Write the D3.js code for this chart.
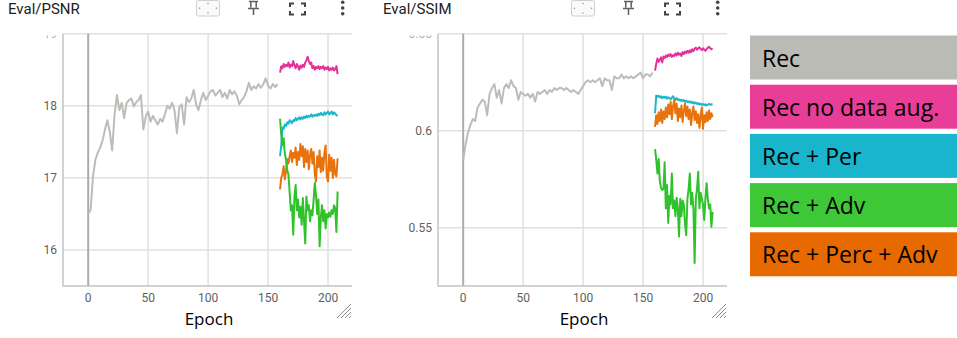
<!DOCTYPE html>
<html>
<head>
<meta charset="utf-8">
<script src="https://cdn.jsdelivr.net/npm/d3@7"></script>
<style>
  body { margin: 0; background: #fff; }
  svg { display: block; }
</style>
</head>
<body>
<svg id="chart" width="957" height="338"></svg>
<script>
// ---- data ----
const seriesNames = ["Rec", "Rec no data aug.", "Rec + Per", "Rec + Adv", "Rec + Perc + Adv"];
const xTicks = [0, 50, 100, 150, 200];
const psnrTicks = [16, 17, 18, 19];
const ssimTicks = [0.55, 0.6, 0.65];

// "Rec" run: epochs 0..158, every 2nd epoch
const psnrRec = [
  16.50, 16.55, 17.02, 17.25, 17.35, 17.42, 17.52, 17.67, 17.80, 17.64,
  17.38, 17.88, 18.15, 17.94, 18.04, 17.83, 18.04, 18.08, 18.10, 17.99,
  18.05, 18.08, 18.15, 17.67, 17.85, 17.92, 17.78, 17.86, 17.80, 17.74,
  17.82, 17.78, 17.88, 18.00, 17.96, 18.04, 17.94, 17.62, 17.98, 18.02,
  17.74, 18.12, 18.05, 18.10, 18.22, 18.02, 17.94, 18.08, 18.18, 18.08,
  18.14, 18.20, 18.22, 18.14, 18.18, 18.22, 18.12, 18.18, 18.10, 18.22,
  18.16, 18.20, 18.14, 18.02, 18.08, 18.12, 18.20, 18.32, 18.22, 18.27,
  18.24, 18.30, 18.25, 18.30, 18.38, 18.28, 18.24, 18.30, 18.26, 18.30
];
const ssimRec = [
  0.585, 0.593, 0.599, 0.603, 0.606, 0.605, 0.612, 0.614, 0.616, 0.615,
  0.608, 0.619, 0.622, 0.624, 0.617, 0.621, 0.614, 0.622, 0.624, 0.622,
  0.626, 0.623, 0.622, 0.616, 0.620, 0.619, 0.618, 0.619, 0.617, 0.619,
  0.615, 0.620, 0.619, 0.620, 0.621, 0.619, 0.621, 0.620, 0.622, 0.621,
  0.622, 0.622, 0.621, 0.622, 0.621, 0.620, 0.621, 0.620, 0.619, 0.621,
  0.623, 0.625, 0.626, 0.625, 0.626, 0.625, 0.626, 0.627, 0.623, 0.627,
  0.626, 0.626, 0.621, 0.628, 0.627, 0.627, 0.629, 0.627, 0.628, 0.627,
  0.628, 0.627, 0.628, 0.629, 0.630, 0.627, 0.629, 0.629, 0.628, 0.630
];

// the other runs: epochs 160..208, every epoch
const psnrNoAug = [
  18.46, 18.55, 18.52, 18.58, 18.54, 18.57, 18.55, 18.60, 18.53, 18.57,
  18.55, 18.62, 18.56, 18.52, 18.58, 18.55, 18.50, 18.56, 18.53, 18.57,
  18.54, 18.60, 18.63, 18.68, 18.62, 18.58, 18.60, 18.52, 18.55, 18.50,
  18.54, 18.52, 18.55, 18.51, 18.54, 18.52, 18.55, 18.50, 18.53, 18.51,
  18.54, 18.49, 18.52, 18.50, 18.53, 18.49, 18.51, 18.55, 18.44
];
const psnrPer = [
  17.30, 17.45, 17.70, 17.68, 17.74, 17.72, 17.77, 17.75, 17.80, 17.78,
  17.76, 17.80, 17.79, 17.83, 17.80, 17.82, 17.84, 17.81, 17.84, 17.82,
  17.85, 17.83, 17.86, 17.84, 17.86, 17.85, 17.88, 17.85, 17.87, 17.86,
  17.88, 17.86, 17.89, 17.87, 17.90, 17.88, 17.87, 17.91, 17.88, 17.90,
  17.92, 17.88, 17.90, 17.92, 17.88, 17.91, 17.89, 17.87, 17.86
];
const psnrAdv = [
  17.82, 17.60, 17.45, 17.55, 17.34, 17.25, 17.10, 17.05, 16.80, 16.55,
  16.62, 16.21, 16.74, 16.90, 16.55, 16.70, 16.45, 16.60, 16.35, 16.72,
  16.40, 16.09, 16.74, 16.55, 16.62, 16.40, 16.55, 16.48, 16.70, 16.93,
  16.75, 16.50, 16.70, 16.05, 16.45, 16.62, 16.40, 16.55, 16.30, 16.50,
  16.45, 16.52, 16.46, 16.55, 16.50, 16.62, 16.58, 16.25, 16.81
];
const psnrPercAdv = [
  16.84, 17.00, 17.05, 17.16, 16.98, 17.10, 17.26, 17.20, 17.30, 17.38,
  17.22, 17.35, 17.28, 17.42, 17.18, 17.36, 17.25, 17.47, 17.30, 17.44,
  17.15, 17.40, 17.22, 17.38, 17.12, 17.32, 17.40, 17.20, 17.36, 17.05,
  16.95, 17.30, 17.15, 17.38, 17.08, 17.28, 17.10, 17.35, 17.45, 17.02,
  16.95, 17.32, 17.10, 17.28, 17.00, 17.25, 17.05, 17.02, 17.27
];

const ssimNoAug = [
  0.6310, 0.6345, 0.6372, 0.6355, 0.6365, 0.6378, 0.6352, 0.6382, 0.6375, 0.6388,
  0.6380, 0.6392, 0.6385, 0.6395, 0.6380, 0.6390, 0.6385, 0.6398, 0.6388, 0.6402,
  0.6392, 0.6398, 0.6385, 0.6405, 0.6395, 0.6408, 0.6400, 0.6412, 0.6402, 0.6415,
  0.6405, 0.6420, 0.6410, 0.6422, 0.6428, 0.6418, 0.6425, 0.6430, 0.6422, 0.6415,
  0.6425, 0.6418, 0.6412, 0.6420, 0.6428, 0.6432, 0.6425, 0.6420, 0.6424
];
const ssimPer = [
  0.6090, 0.6182, 0.6175, 0.6180, 0.6172, 0.6178, 0.6168, 0.6175, 0.6170, 0.6176,
  0.6165, 0.6172, 0.6168, 0.6162, 0.6170, 0.6178, 0.6165, 0.6160, 0.6168, 0.6158,
  0.6162, 0.6155, 0.6160, 0.6152, 0.6158, 0.6150, 0.6155, 0.6148, 0.6152, 0.6145,
  0.6150, 0.6142, 0.6148, 0.6140, 0.6145, 0.6138, 0.6142, 0.6135, 0.6140, 0.6133,
  0.6138, 0.6132, 0.6136, 0.6130, 0.6135, 0.6138, 0.6134, 0.6136, 0.6135
];
const ssimAdv = [
  0.5905, 0.5850, 0.5780, 0.5855, 0.5740, 0.5705, 0.5695, 0.5700, 0.5838, 0.5600,
  0.5720, 0.5525, 0.5665, 0.5620, 0.5780, 0.5600, 0.5640, 0.5560, 0.5655, 0.5600,
  0.5455, 0.5650, 0.5560, 0.5640, 0.5620, 0.5520, 0.5462, 0.5650, 0.5700, 0.5780,
  0.5620, 0.5680, 0.5600, 0.5318, 0.5650, 0.5700, 0.5789, 0.5600, 0.5680, 0.5650,
  0.5620, 0.5540, 0.5650, 0.5730, 0.5650, 0.5600, 0.5620, 0.5505, 0.5582
];
const ssimPercAdv = [
  0.6020, 0.6080, 0.6035, 0.6095, 0.6050, 0.6110, 0.6040, 0.6100, 0.6060, 0.6120,
  0.6070, 0.6135, 0.6085, 0.6150, 0.6060, 0.6125, 0.6160, 0.6090, 0.6140, 0.6050,
  0.6115, 0.6070, 0.6130, 0.6045, 0.6105, 0.6140, 0.6075, 0.6125, 0.6060, 0.6110,
  0.6030, 0.6090, 0.6125, 0.6055, 0.6100, 0.6040, 0.6085, 0.6015, 0.6075, 0.6120,
  0.6010, 0.6080, 0.6045, 0.6095, 0.6050, 0.6105, 0.6060, 0.6090, 0.6070
];

const lineColors = ["#bcbcb8", "#e5309a", "#19b6cc", "#2fc22a", "#e8720c"];
const boxColors = ["#bbbbb6", "#e83e98", "#18b5cc", "#3ec838", "#e66a00"];

const svg = d3.select("#chart");
const uiFont = "Roboto, 'Noto Sans', sans-serif";
const textFont = "'Open Sans', 'Noto Sans', sans-serif";

function toPoints(values, start, step) {
  return values.map((v, i) => ({ epoch: start + i * step, value: v }));
}

function panel(left, title, yDomain, yTicks, tickFmt, runs, id) {
  const g = svg.append("g").attr("transform", "translate(" + left + ",0)");
  const x = d3.scaleLinear().domain([-21, 220]).range([63, 352]);
  const y = d3.scaleLinear().domain(yDomain).range([286, 33.7]);
  const [x0, x1] = x.range();
  const [yb, yt] = y.range();

  // header
  g.append("text").attr("x", 8).attr("y", 13.5).text(title)
    .attr("font-family", uiFont).attr("font-size", 15).attr("fill", "#212121");

  // toolbar icons
  g.append("rect").attr("x", 196.5).attr("y", 0.5).attr("width", 23).attr("height", 15.5)
    .attr("rx", 2).attr("fill", "#fafafa").attr("stroke", "#cfcfcf");
  [[208, 3.5], [208, 13], [199.5, 8.2], [216.5, 8.2]].forEach(p => {
    g.append("circle").attr("cx", p[0]).attr("cy", p[1]).attr("r", 0.8).attr("fill", "#9a9a9a");
  });
  g.append("path")
    .attr("d", "M249,1.5H258M250.8,1.5V7.5M256.2,1.5V7.5M248,8.5H259M253.5,8.5V15")
    .attr("stroke", "#5f5f5f").attr("stroke-width", 1.5).attr("fill", "none");
  g.append("path")
    .attr("d", "M290,7V3.5H294M301,3.5H305V7M290,11V14.5H294M301,14.5H305V11")
    .attr("stroke", "#444").attr("stroke-width", 2).attr("fill", "none");
  [2.2, 8, 13.8].forEach(cy => {
    g.append("circle").attr("cx", 342.7).attr("cy", cy).attr("r", 1.8).attr("fill", "#444");
  });

  // grid
  g.append("g").selectAll("line").data(yTicks).join("line")
    .attr("x1", x0).attr("x2", x1).attr("y1", d => y(d)).attr("y2", d => y(d))
    .attr("stroke", "#e0e0e0").attr("stroke-width", 1.5);
  g.append("g").selectAll("line").data(xTicks).join("line")
    .attr("x1", d => x(d)).attr("x2", d => x(d)).attr("y1", yt).attr("y2", yb)
    .attr("stroke", d => d === 0 ? "#ababab" : "#e0e0e0")
    .attr("stroke-width", d => d === 0 ? 2 : 1.5);

  // frame
  g.append("path").attr("d", "M" + x0 + "," + yt + "V" + yb + "H" + x1)
    .attr("fill", "none").attr("stroke", "#c4c4c4").attr("stroke-width", 1.5);

  // tick labels (the top one is cut off by the panel edge)
  const clip = g.append("clipPath").attr("id", "lab" + id);
  clip.append("rect").attr("x", 0).attr("y", 35.5).attr("width", 370).attr("height", 305);
  g.append("g").attr("clip-path", "url(#lab" + id + ")")
    .selectAll("text").data(yTicks).join("text")
    .attr("x", 57).attr("y", d => y(d)).attr("dy", "0.35em")
    .attr("text-anchor", "end").text(tickFmt)
    .attr("font-family", uiFont).attr("font-size", 12)
    .attr("fill", d => d === yTicks[yTicks.length - 1] ? "#b0b0b0" : "#5f5f5f");
  g.append("g").selectAll("text").data(xTicks).join("text")
    .attr("x", d => x(d)).attr("y", 301.7).attr("text-anchor", "middle").text(d => d)
    .attr("font-family", uiFont).attr("font-size", 12).attr("fill", "#5f5f5f");

  g.append("text").attr("x", 209).attr("y", 325).attr("text-anchor", "middle").text("Epoch")
    .attr("font-family", textFont).attr("font-size", 17).attr("fill", "#000");

  // resize handle
  g.append("g").selectAll("line").data([0, 1, 2, 3]).join("line")
    .attr("x1", k => 337 + k * 4).attr("y1", 318).attr("x2", 351).attr("y2", k => 304 + k * 4)
    .attr("stroke", "#8a8a8a").attr("stroke-width", 1);

  // runs
  const pc = g.append("clipPath").attr("id", "plot" + id);
  pc.append("rect").attr("x", x0).attr("y", yt - 2).attr("width", x1 - x0).attr("height", yb - yt + 2);
  const line = d3.line().x(d => x(d.epoch)).y(d => y(d.value));
  const order = [0, 1, 2, 4, 3];
  g.append("g").attr("clip-path", "url(#plot" + id + ")")
    .selectAll("path").data(order).join("path")
    .attr("d", k => line(runs[k]))
    .attr("fill", "none").attr("stroke", k => lineColors[k])
    .attr("stroke-width", 2).attr("stroke-linejoin", "round");
}

panel(0, "Eval/PSNR", [15.5, 19], psnrTicks, d => d, [
  toPoints(psnrRec, 0, 2), toPoints(psnrNoAug, 160, 1), toPoints(psnrPer, 160, 1),
  toPoints(psnrAdv, 160, 1), toPoints(psnrPercAdv, 160, 1)
], "a");

panel(375, "Eval/SSIM", [0.52, 0.65], ssimTicks, d => d3.format("")(d), [
  toPoints(ssimRec, 0, 2), toPoints(ssimNoAug, 160, 1), toPoints(ssimPer, 160, 1),
  toPoints(ssimAdv, 160, 1), toPoints(ssimPercAdv, 160, 1)
], "b");

// legend
const lg = svg.append("g");
lg.selectAll("rect").data(seriesNames).join("rect")
  .attr("x", 750).attr("y", (d, i) => 35.5 + i * 49.2).attr("width", 207).attr("height", 44)
  .attr("fill", (d, i) => boxColors[i]);
lg.selectAll("text").data(seriesNames).join("text")
  .attr("x", 762).attr("y", (d, i) => 66.5 + i * 49.2).text(d => d)
  .attr("font-family", textFont).attr("font-size", 23).attr("fill", "#000");
</script>
</body>
</html>
